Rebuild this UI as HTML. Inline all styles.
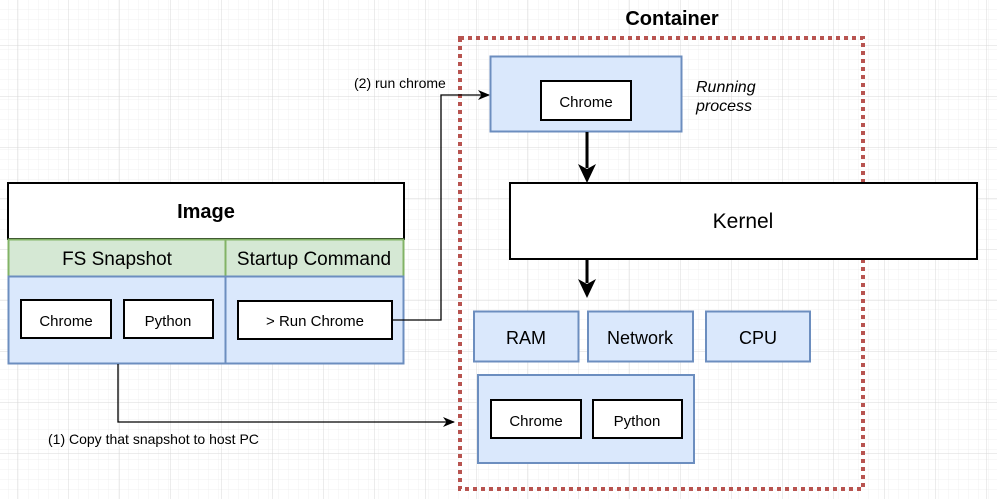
<!DOCTYPE html>
<html><head><meta charset="utf-8"><style>
html,body{margin:0;padding:0;background:#fff;}
svg{display:block;font-family:"Liberation Sans",sans-serif;}
</style></head><body>
<svg width="997" height="499" viewBox="0 0 997 499" xmlns="http://www.w3.org/2000/svg">
<defs>
<pattern id="minor" width="10" height="10" patternUnits="userSpaceOnUse" x="9" y="0">
<path d="M10 0V10M0 10H10" stroke="#f0f0f0" stroke-width="1" fill="none"/>
</pattern>
<pattern id="major" width="51" height="51" patternUnits="userSpaceOnUse" x="18" y="-5">
<path d="M51 0V51M0 51H51" stroke="#d8d8d8" stroke-width="1" fill="none"/>
</pattern>
<marker id="a" markerWidth="12" markerHeight="12" refX="11" refY="6" orient="auto" markerUnits="userSpaceOnUse">
<path d="M0 1L12 6L0 11L3.5 6Z" fill="#000"/>
</marker>
</defs>
<rect width="997" height="499" fill="url(#minor)"/>
<rect width="997" height="499" fill="url(#major)"/>

<text x="672" y="25" font-size="20" font-weight="bold" text-anchor="middle">Container</text>
<rect x="460" y="38" width="403" height="451" fill="none" stroke="#b85450" stroke-width="4" stroke-dasharray="4 4"/>

<rect x="8" y="183" width="396" height="56" fill="#fff" stroke="#000" stroke-width="2"/>
<text x="206" y="218" font-size="20" font-weight="bold" text-anchor="middle">Image</text>
<rect x="8.5" y="239.5" width="217" height="37" fill="#d5e8d4" stroke="#82b366" stroke-width="2"/>
<rect x="225.5" y="239.5" width="178" height="37" fill="#d5e8d4" stroke="#82b366" stroke-width="2"/>
<text x="117" y="265" font-size="19" text-anchor="middle">FS Snapshot</text>
<text x="314" y="265" font-size="19" text-anchor="middle">Startup Command</text>
<rect x="8.5" y="276.5" width="217" height="87" fill="#dae8fc" stroke="#6c8ebf" stroke-width="2"/>
<rect x="225.5" y="276.5" width="178" height="87" fill="#dae8fc" stroke="#6c8ebf" stroke-width="2"/>
<rect x="21" y="300" width="90" height="38" fill="#fff" stroke="#000" stroke-width="2"/>
<text x="66" y="326" font-size="15" text-anchor="middle">Chrome</text>
<rect x="124" y="300" width="89" height="38" fill="#fff" stroke="#000" stroke-width="2"/>
<text x="168" y="326" font-size="15" text-anchor="middle">Python</text>
<rect x="238" y="301" width="154" height="38" fill="#fff" stroke="#000" stroke-width="2"/>
<text x="315" y="326" font-size="15" text-anchor="middle">&gt; Run Chrome</text>

<path d="M392 320H441V95H489" fill="none" stroke="#000" stroke-width="1.3" marker-end="url(#a)"/>
<text x="354" y="88" font-size="14">(2) run chrome</text>

<path d="M118 364V422H454" fill="none" stroke="#000" stroke-width="1.3" marker-end="url(#a)"/>
<text x="48" y="444" font-size="14">(1) Copy that snapshot to host PC</text>

<rect x="490.5" y="56.5" width="191" height="75" fill="#dae8fc" stroke="#6c8ebf" stroke-width="2"/>
<rect x="541" y="81" width="90" height="39" fill="#fff" stroke="#000" stroke-width="2"/>
<text x="586" y="107" font-size="15" text-anchor="middle">Chrome</text>
<text x="696" y="92" font-size="16" font-style="italic">Running</text>
<text x="696" y="111" font-size="16" font-style="italic">process</text>

<path d="M587 132V168" stroke="#000" stroke-width="3"/>
<path d="M578 164L587 183L596 164L587 169Z" fill="#000"/>

<rect x="510" y="183" width="467" height="76" fill="#fff" stroke="#000" stroke-width="2"/>
<text x="743" y="228" font-size="21" text-anchor="middle">Kernel</text>

<path d="M587 260V283" stroke="#000" stroke-width="3"/>
<path d="M578 279L587 298L596 279L587 284Z" fill="#000"/>

<rect x="474" y="311.5" width="104.5" height="50" fill="#dae8fc" stroke="#6c8ebf" stroke-width="2"/>
<text x="526" y="344" font-size="18" text-anchor="middle">RAM</text>
<rect x="588" y="311.5" width="105" height="50" fill="#dae8fc" stroke="#6c8ebf" stroke-width="2"/>
<text x="640" y="344" font-size="18" text-anchor="middle">Network</text>
<rect x="706" y="311.5" width="104" height="50" fill="#dae8fc" stroke="#6c8ebf" stroke-width="2"/>
<text x="758" y="344" font-size="18" text-anchor="middle">CPU</text>

<rect x="478" y="375" width="216" height="88" fill="#dae8fc" stroke="#6c8ebf" stroke-width="2"/>
<rect x="491" y="400" width="90" height="38" fill="#fff" stroke="#000" stroke-width="2"/>
<text x="536" y="426" font-size="15" text-anchor="middle">Chrome</text>
<rect x="593" y="400" width="89" height="38" fill="#fff" stroke="#000" stroke-width="2"/>
<text x="637" y="426" font-size="15" text-anchor="middle">Python</text>
</svg>
</body></html>
